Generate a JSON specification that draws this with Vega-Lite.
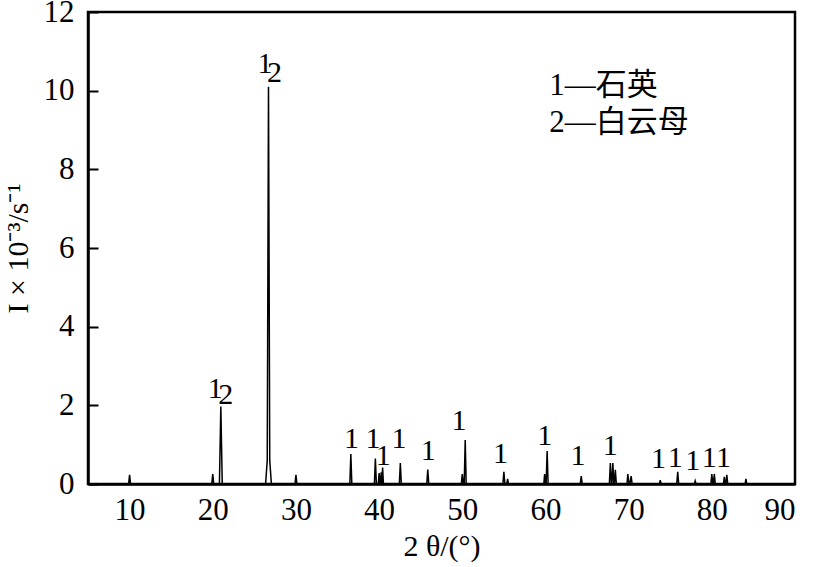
{
  "$schema": "https://vega.github.io/schema/vega-lite/v6.json",
  "width": 707,
  "height": 472,
  "autosize": "none",
  "padding": {"left": 88, "top": 12, "right": 18, "bottom": 83},
  "background": "white",
  "config": {
    "view": {"stroke": "black", "strokeWidth": 2.5},
    "font": "Liberation Serif",
    "axis": {"grid": false, "domainColor": "black", "domainWidth": 2.5, "tickColor": "black", "tickWidth": 2, "labelColor": "black", "titleColor": "black", "labelFont": "Liberation Serif", "titleFont": "Liberation Serif", "labelFontSize": 31, "titleFontSize": 30, "titleFontWeight": "normal"}
  },
  "datasets": {
    "xrd": [
      {"t": 5, "i": 0},
      {"t": 9.88, "i": 0}, {"t": 10.0, "i": 0.23}, {"t": 10.12, "i": 0},
      {"t": 19.88, "i": 0}, {"t": 20.0, "i": 0.25}, {"t": 20.12, "i": 0},
      {"t": 20.8, "i": 0}, {"t": 20.97, "i": 1.97}, {"t": 21.14, "i": 0},
      {"t": 26.35, "i": 0}, {"t": 26.55, "i": 0.6}, {"t": 26.7, "i": 10.1}, {"t": 26.85, "i": 0.6}, {"t": 27.05, "i": 0},
      {"t": 29.88, "i": 0}, {"t": 30.0, "i": 0.23}, {"t": 30.12, "i": 0},
      {"t": 36.48, "i": 0}, {"t": 36.6, "i": 0.76}, {"t": 36.72, "i": 0},
      {"t": 39.43, "i": 0}, {"t": 39.55, "i": 0.65}, {"t": 39.67, "i": 0},
      {"t": 39.9, "i": 0}, {"t": 40.0, "i": 0.28}, {"t": 40.12, "i": 0},
      {"t": 40.17, "i": 0}, {"t": 40.25, "i": 0.3}, {"t": 40.32, "i": 0},
      {"t": 40.34, "i": 0}, {"t": 40.42, "i": 0.42}, {"t": 40.52, "i": 0},
      {"t": 42.43, "i": 0}, {"t": 42.55, "i": 0.53}, {"t": 42.67, "i": 0},
      {"t": 45.73, "i": 0}, {"t": 45.85, "i": 0.37}, {"t": 45.97, "i": 0},
      {"t": 49.88, "i": 0}, {"t": 50.0, "i": 0.25}, {"t": 50.12, "i": 0},
      {"t": 50.23, "i": 0}, {"t": 50.35, "i": 1.12}, {"t": 50.47, "i": 0},
      {"t": 54.88, "i": 0}, {"t": 55.0, "i": 0.31}, {"t": 55.12, "i": 0},
      {"t": 55.35, "i": 0}, {"t": 55.45, "i": 0.13}, {"t": 55.55, "i": 0},
      {"t": 59.8, "i": 0}, {"t": 59.9, "i": 0.25}, {"t": 60.02, "i": 0},
      {"t": 60.08, "i": 0}, {"t": 60.2, "i": 0.84}, {"t": 60.32, "i": 0},
      {"t": 64.18, "i": 0}, {"t": 64.3, "i": 0.2}, {"t": 64.42, "i": 0},
      {"t": 67.68, "i": 0}, {"t": 67.8, "i": 0.53}, {"t": 67.92, "i": 0},
      {"t": 67.98, "i": 0}, {"t": 68.1, "i": 0.53}, {"t": 68.22, "i": 0},
      {"t": 68.28, "i": 0}, {"t": 68.4, "i": 0.36}, {"t": 68.52, "i": 0},
      {"t": 69.8, "i": 0}, {"t": 69.9, "i": 0.25}, {"t": 70.05, "i": 0},
      {"t": 70.15, "i": 0}, {"t": 70.3, "i": 0.2}, {"t": 70.42, "i": 0},
      {"t": 73.7, "i": 0}, {"t": 73.8, "i": 0.1}, {"t": 73.9, "i": 0},
      {"t": 75.78, "i": 0}, {"t": 75.9, "i": 0.31}, {"t": 76.02, "i": 0},
      {"t": 77.9, "i": 0}, {"t": 78.0, "i": 0.08}, {"t": 78.1, "i": 0},
      {"t": 79.88, "i": 0}, {"t": 80.0, "i": 0.25}, {"t": 80.12, "i": 0},
      {"t": 80.18, "i": 0}, {"t": 80.3, "i": 0.25}, {"t": 80.42, "i": 0},
      {"t": 81.4, "i": 0}, {"t": 81.5, "i": 0.18}, {"t": 81.6, "i": 0},
      {"t": 81.68, "i": 0}, {"t": 81.8, "i": 0.23}, {"t": 81.92, "i": 0},
      {"t": 84.0, "i": 0}, {"t": 84.1, "i": 0.13}, {"t": 84.2, "i": 0},
      {"t": 90, "i": 0}
    ],
    "labels": [
      {"t": 20.3, "i": 2.19, "s": "1"},
      {"t": 21.55, "i": 2.03, "s": "2"},
      {"t": 26.28, "i": 10.45, "s": "1"},
      {"t": 27.42, "i": 10.22, "s": "2"},
      {"t": 36.67, "i": 0.92, "s": "1"},
      {"t": 39.27, "i": 0.92, "s": "1"},
      {"t": 40.5, "i": 0.48, "s": "1"},
      {"t": 42.4, "i": 0.92, "s": "1"},
      {"t": 45.9, "i": 0.61, "s": "1"},
      {"t": 49.6, "i": 1.37, "s": "1"},
      {"t": 54.6, "i": 0.53, "s": "1"},
      {"t": 59.9, "i": 0.99, "s": "1"},
      {"t": 63.9, "i": 0.48, "s": "1"},
      {"t": 67.8, "i": 0.74, "s": "1"},
      {"t": 73.6, "i": 0.41, "s": "1"},
      {"t": 75.6, "i": 0.43, "s": "1"},
      {"t": 77.7, "i": 0.36, "s": "1"},
      {"t": 79.7, "i": 0.43, "s": "1"},
      {"t": 81.4, "i": 0.43, "s": "1"}
    ],
    "legend": [
      {"t": 60.45, "i": 9.89, "s": "1—石英"},
      {"t": 60.45, "i": 8.96, "s": "2—白云母"}
    ]
  },
  "layer": [
    {
      "data": {"name": "xrd"},
      "mark": {"type": "line", "color": "black", "strokeWidth": 1.5, "clip": true},
      "encoding": {
        "x": {"field": "t", "type": "quantitative", "scale": {"domain": [5, 90], "nice": false, "zero": false},
              "axis": {"values": [10, 20, 30, 40, 50, 60, 70, 80, 90], "ticks": false, "labelPadding": 11, "title": "2 θ/(°)", "titlePadding": 6}},
        "y": {"field": "i", "type": "quantitative", "scale": {"domain": [0, 12], "nice": false},
              "axis": {"values": [0, 2, 4, 6, 8, 10, 12], "tickSize": -10, "labelPadding": 24, "title": "I × 10⁻³/s⁻¹", "titlePadding": 10}}
      }
    },
    {
      "data": {"name": "labels"},
      "mark": {"type": "text", "font": "Liberation Serif", "fontSize": 30, "color": "black", "baseline": "alphabetic", "align": "center"},
      "encoding": {
        "x": {"field": "t", "type": "quantitative"},
        "y": {"field": "i", "type": "quantitative"},
        "text": {"field": "s"}
      }
    },
    {
      "data": {"name": "legend"},
      "mark": {"type": "text", "font": "Liberation Serif, Noto Sans CJK SC", "fontSize": 31, "color": "black", "baseline": "alphabetic", "align": "left"},
      "encoding": {
        "x": {"field": "t", "type": "quantitative"},
        "y": {"field": "i", "type": "quantitative"},
        "text": {"field": "s"}
      }
    }
  ]
}
